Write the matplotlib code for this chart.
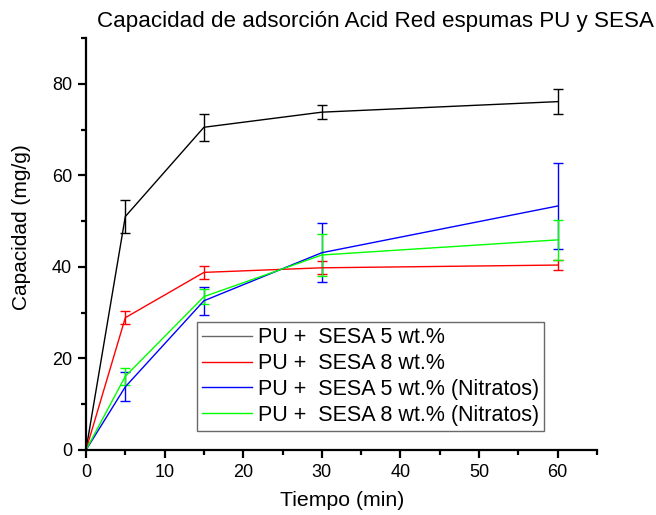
import matplotlib
matplotlib.use("Agg")
import matplotlib.pyplot as plt
from matplotlib.ticker import MultipleLocator
from matplotlib.lines import Line2D

plt.rcParams['font.family'] = ['Liberation Sans', 'DejaVu Sans']

time = [0, 5, 15, 30, 60]
labels = ["PU +  SESA 5 wt.%", "PU +  SESA 8 wt.%",
          "PU +  SESA 5 wt.% (Nitratos)", "PU +  SESA 8 wt.% (Nitratos)"]
colors = ["#000000", "#FF0000", "#0000FF", "#00FF00"]

sesa5 = [0, 51.0, 70.5, 73.8, 76.1]
sesa5_err = [0, 3.7, 3.0, 1.5, 2.7]
sesa8 = [0, 28.9, 38.8, 39.8, 40.4]
sesa8_err = [0, 1.4, 1.4, 1.4, 1.0]
sesa5_nit = [0, 13.8, 32.6, 43.1, 53.3]
sesa5_nit_err = [0, 3.2, 3.1, 6.5, 9.5]
sesa8_nit = [0, 16.1, 33.5, 42.6, 45.9]
sesa8_nit_err = [0, 1.8, 1.7, 4.5, 4.4]

series = [sesa5, sesa8, sesa5_nit, sesa8_nit]
errors = [sesa5_err, sesa8_err, sesa5_nit_err, sesa8_nit_err]

fig = plt.figure(figsize=(6.56, 5.15), dpi=100)
ax = fig.add_axes([86/656, 1-450/515, (597-86)/656, (450-38)/515])

handles = []
for y, e, c, lab in zip(series, errors, colors, labels):
    ax.errorbar(time, y, yerr=e, color=c, lw=1.0, elinewidth=1.0,
                capsize=3.3, capthick=1.0)
    handles.append(Line2D([], [], color=c, lw=1.0, alpha=0.6 if c == "#000000" else 1.0))

ax.set_xlim(0, 65)
ax.set_ylim(0, 90)
ax.xaxis.set_major_locator(MultipleLocator(10))
ax.xaxis.set_minor_locator(MultipleLocator(5))
ax.yaxis.set_major_locator(MultipleLocator(20))
ax.yaxis.set_minor_locator(MultipleLocator(10))
for s in ['top', 'right']:
    ax.spines[s].set_visible(False)
for s in ['left', 'bottom']:
    ax.spines[s].set_linewidth(1.6)
ax.tick_params(which='major', direction='out', length=6, width=1.6, labelsize=13, pad=4)
ax.tick_params(which='minor', direction='out', length=3.5, width=1.6)

fig.text(342/656, 1-500/515, "Tiempo (min)", ha='center', va='center', fontsize=15.3)
fig.text(22/656, 1-227/515, "Capacidad (mg/g)", ha='center', va='center',
         rotation=90, fontsize=15)
fig.text(375/656, 1-22/515, "Capacidad de adsorción Acid Red espumas PU y SESA",
         ha='center', va='center', fontsize=16.1)

leg = ax.legend(handles, labels, loc='upper left',
                bbox_to_anchor=((197-86)/511, (450-322)/412),
                fontsize=15.5, frameon=True, fancybox=False, borderpad=0.25,
                labelspacing=0.22, handlelength=2.3, handletextpad=0.28,
                borderaxespad=0)
leg.get_frame().set_edgecolor('#444444')
leg.get_frame().set_linewidth(1.0)
leg._legend_box.align = "left"

fig.savefig("out.png", dpi=100)
